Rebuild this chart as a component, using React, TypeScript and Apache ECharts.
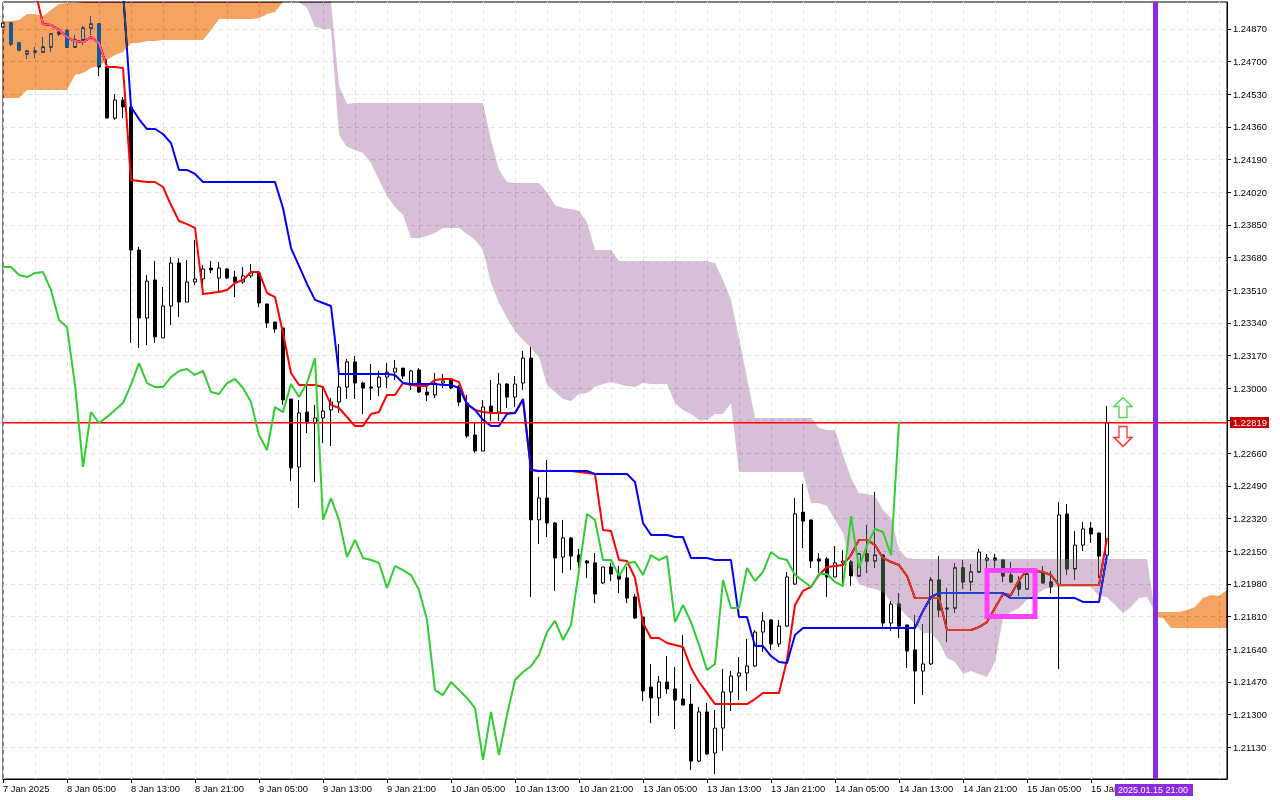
import React, { useEffect, useRef } from "react";
import * as echarts from "echarts";

const timeLabels = ["7 Jan 2025","8 Jan 05:00","8 Jan 13:00","8 Jan 21:00","9 Jan 05:00","9 Jan 13:00","9 Jan 21:00","10 Jan 05:00","10 Jan 13:00","10 Jan 21:00","13 Jan 05:00","13 Jan 13:00","13 Jan 21:00","14 Jan 05:00","14 Jan 13:00","14 Jan 21:00","15 Jan 05:00","15 Jan"];
const priceLabels = [1.2487,1.247,1.2453,1.2436,1.2419,1.2402,1.2385,1.2368,1.2351,1.2334,1.2317,1.23,1.2266,1.2249,1.2232,1.2215,1.2198,1.2181,1.2164,1.2147,1.213,1.2113];
const hiddenPriceTick = 1.2283;
const lastPrice = 1.22819;
const BAR_SLOTS = 154;
const timeMarkerIndex = 144;
const arrowIndex = 140;
const arrowUpPrice = 1.22899;
const arrowDownPrice = 1.22748;
const signalBox = [123, 1.2205, 129, 1.2181];

const candleOpen = [1.2488,1.24901,1.24797,1.2474,1.2475,1.2475,1.24776,1.24844,1.2486,1.24776,
1.24813,1.24875,1.24896,1.24672,1.24406,1.245,1.24464,1.23719,1.23365,1.23563,
1.23261,1.23427,1.23651,1.23448,1.23552,1.23568,1.23625,1.23573,1.2362,1.23578,
1.23552,1.23584,1.23599,1.23438,1.23344,1.23313,1.22943,1.22589,1.22875,1.22818,
1.22844,1.22886,1.22927,1.23005,1.23136,1.23026,1.23005,1.23005,1.23057,1.23083,
1.23104,1.23016,1.23094,1.22979,1.22964,1.23026,1.23047,1.23005,1.22922,1.22755,
1.22672,1.22906,1.22875,1.23021,1.22953,1.23026,1.23156,1.22313,1.22427,1.22297,
1.2212,1.22219,1.2213,1.22099,1.22089,1.21985,1.22068,1.22031,1.22011,1.21912,
1.21807,1.21443,1.21386,1.21469,1.21433,1.2138,1.21354,1.21057,1.21313,1.21099,
1.21229,1.21417,1.215,1.21516,1.21552,1.21729,1.21792,1.21667,1.2176,1.21979,
1.22354,1.22313,1.2211,1.2211,1.22016,1.22089,1.22094,1.22021,1.22136,1.22099,
1.2213,1.21776,1.21875,1.21766,1.21636,1.21526,1.21563,1.22,1.21854,1.21854,
1.22063,1.2199,1.22042,1.22104,1.22115,1.22104,1.22026,1.2199,1.21953,1.22042,
1.22037,1.2199,1.21974,1.22344,1.22058,1.22182,1.22271,1.22245,1.2213];

const candleClose = [1.24901,1.24792,1.24761,1.24755,1.24755,1.24776,1.24844,1.24854,1.24776,1.24813,
1.24875,1.24896,1.24672,1.24406,1.245,1.24464,1.23719,1.23365,1.23557,1.23266,
1.23427,1.23651,1.23448,1.23552,1.23568,1.2362,1.23615,1.23625,1.23573,1.23552,
1.23584,1.23599,1.23443,1.23339,1.23307,1.22938,1.22584,1.2287,1.22818,1.22844,
1.2288,1.22927,1.23005,1.23136,1.23026,1.23,1.23,1.23057,1.23083,1.23104,
1.23063,1.23089,1.22979,1.22964,1.23026,1.23037,1.23,1.22927,1.2275,1.22672,
1.22901,1.22875,1.23021,1.22953,1.23021,1.23156,1.22313,1.22427,1.22297,1.22115,
1.22219,1.22125,1.22094,1.22089,1.21927,1.22068,1.22031,1.22005,1.21906,1.21802,
1.21422,1.21386,1.21469,1.21433,1.21375,1.21349,1.21057,1.21313,1.21094,1.21229,
1.21417,1.215,1.21516,1.21552,1.21729,1.21787,1.21667,1.2176,1.22016,1.22344,
1.22307,1.22099,1.22099,1.22016,1.22089,1.22099,1.22021,1.22136,1.22099,1.2213,
1.21776,1.21875,1.2176,1.2163,1.21526,1.21563,1.22,1.21844,1.21849,1.22063,
1.2199,1.22042,1.22146,1.22115,1.22104,1.22021,1.2199,1.21953,1.22031,1.22031,
1.21985,1.21964,1.22339,1.22058,1.22182,1.22266,1.2224,1.22125,1.22819];

const candleLow = [1.2488,1.24781,1.24761,1.24714,1.24719,1.2475,1.2475,1.24833,1.24776,1.24776,
1.24787,1.24839,1.24625,1.24406,1.24396,1.24406,1.23235,1.23209,1.23224,1.23235,
1.23261,1.23328,1.2337,1.23448,1.23537,1.23485,1.23599,1.23505,1.23568,1.23474,
1.23542,1.23573,1.23422,1.23313,1.23287,1.22912,1.22516,1.22375,1.22766,1.22511,
1.22714,1.22698,1.2287,1.22943,1.22943,1.22865,1.22938,1.22958,1.23,1.23042,
1.23047,1.2299,1.22974,1.22932,1.22948,1.23,1.22995,1.22906,1.2274,1.22662,
1.22672,1.22828,1.22828,1.22896,1.22901,1.2299,1.21912,1.22188,1.22224,1.21943,
1.22037,1.22052,1.22063,1.22011,1.2188,1.21979,1.21995,1.21932,1.2188,1.21797,
1.2137,1.21255,1.21292,1.21407,1.21224,1.21349,1.21011,1.21052,1.21089,1.2099,
1.2111,1.21318,1.21375,1.21422,1.21547,1.21625,1.21636,1.21651,1.21755,1.21974,
1.22167,1.22063,1.22037,1.21912,1.22016,1.21964,1.21969,1.22016,1.22037,1.22063,
1.21755,1.21735,1.21698,1.21542,1.21354,1.21401,1.21557,1.21807,1.21677,1.21828,
1.21953,1.21943,1.22037,1.22042,1.22042,1.2199,1.21985,1.21917,1.21953,1.22021,
1.21985,1.21932,1.21537,1.22026,1.22,1.22151,1.22193,1.22011,1.2213];

const candleHigh = [1.24901,1.24901,1.24797,1.24761,1.24776,1.24828,1.24849,1.2487,1.2487,1.24839,
1.24886,1.24938,1.24896,1.24714,1.24531,1.24516,1.24464,1.23735,1.23589,1.23662,
1.23526,1.23682,1.23677,1.23667,1.23771,1.23641,1.23662,1.23656,1.23625,1.2361,
1.2363,1.23646,1.23604,1.23438,1.23344,1.23313,1.22943,1.22938,1.23016,1.22912,
1.23,1.22948,1.23229,1.23151,1.23167,1.23031,1.23125,1.23089,1.2313,1.23146,
1.23104,1.23094,1.23104,1.23016,1.23078,1.23073,1.23052,1.23016,1.22964,1.22818,
1.22938,1.23042,1.23078,1.23026,1.23063,1.23193,1.23214,1.22537,1.22625,1.22302,
1.22313,1.22224,1.22162,1.22104,1.22141,1.22068,1.22089,1.22073,1.22068,1.21927,
1.21807,1.21563,1.215,1.21604,1.21547,1.21714,1.21459,1.21339,1.2136,1.21323,
1.21537,1.21526,1.21599,1.21693,1.2174,1.21833,1.21797,1.21792,1.22042,1.22427,
1.225,1.22313,1.22141,1.2212,1.22177,1.22156,1.22104,1.22141,1.22287,1.22459,
1.2213,1.21891,1.21932,1.21766,1.21818,1.21771,1.22016,1.22125,1.21959,1.22089,
1.22104,1.22083,1.22162,1.22136,1.22136,1.22104,1.22094,1.22021,1.22037,1.22052,
1.22073,1.22047,1.22406,1.22396,1.22255,1.22302,1.22302,1.22245,1.22906];

const tenkan = [null,null,null,null,1.25073,1.24896,1.24891,1.24865,1.24828,1.24807,1.24802,1.24828,1.24797,1.24672,1.24672,1.24667,
1.24083,1.24078,1.24073,1.24073,1.24047,1.23953,1.2387,1.23854,1.23834,1.2349,1.23495,1.235,1.23511,1.23547,1.23563,1.23604,1.23604,1.23495,1.23474,
1.23287,1.23078,1.23016,1.23016,1.23016,1.23005,1.22912,1.22896,1.22849,1.22802,1.22802,1.22865,1.22875,1.22964,1.22964,1.23026,1.23016,1.23011,1.23011,
1.23042,1.23047,1.23047,1.23031,1.22917,1.22886,1.22875,1.2287,1.2287,1.2287,1.2287,1.22938,1.22573,1.22568,1.22568,1.22568,1.22568,1.22568,1.22563,1.22557,1.22552,
1.22261,1.22255,1.22104,1.22099,1.22011,1.21776,1.21698,1.21698,1.21672,1.21662,1.21651,1.21542,1.21469,1.21412,1.21354,1.21354,1.21354,1.21354,1.21354,
1.2138,1.21412,1.21412,1.21412,1.21583,1.2187,1.21943,1.21964,1.22026,1.22068,1.22073,1.22078,1.2213,1.22209,1.22209,1.22182,1.22115,1.22094,1.22078,1.22021,
1.21906,1.21906,1.21906,1.21906,1.2174,1.2174,1.2174,1.2174,1.21755,1.21781,1.21854,1.21927,1.21922,1.22,1.22052,1.22047,1.22042,1.22026,
1.21974,1.21974,1.21974,1.21974,1.21974,1.21974,1.22219];

const kijun = [null,null,null,null,null,null,null,null,null,null,null,null,null,null,null,1.25068,
1.24464,1.24401,1.24349,1.24349,1.24323,1.24276,1.24136,1.24136,1.24115,1.24073,1.24073,1.24073,1.24073,1.24073,1.24073,1.24073,1.24073,1.24073,1.24073,
1.23938,1.23729,1.23636,1.23542,1.23459,1.23443,1.23427,1.23073,1.23073,1.23073,1.23073,1.23073,1.23073,1.23073,1.23068,1.23026,1.23021,1.23021,1.23021,1.23021,
1.23016,1.23016,1.23,1.22917,1.22886,1.22834,1.22802,1.22802,1.22865,1.2287,1.22943,1.22573,1.22568,1.22568,1.22568,1.22568,1.22568,1.22568,1.22568,
1.22552,1.22552,1.22552,1.22552,1.22552,1.22511,1.22297,1.22235,1.22235,1.22235,1.22224,1.22224,1.22115,1.22115,1.22115,1.22104,1.22104,1.22104,
1.21807,1.21807,1.21656,1.21656,1.21604,1.21573,1.21568,1.21714,1.2175,1.2175,1.2175,1.2175,1.2175,1.2175,1.2175,1.2175,1.2175,1.2175,1.2175,1.2175,1.2175,1.2175,1.2175,
1.21839,1.21912,1.21932,1.21932,1.21932,1.21932,1.21932,1.21932,1.21932,1.21932,1.21932,1.21906,1.21906,1.21906,1.21906,1.21906,1.21906,1.21906,1.21906,1.21906,
1.21886,1.21886,1.21886,1.2213];

const chikou = [1.2363,1.2363,1.23589,1.23578,1.23599,1.23604,1.23511,1.23354,1.23318,1.23016,1.22589,1.22875,1.22818,1.22849,1.22886,1.22922,1.23016,1.2313,1.23026,1.23005,1.23005,
1.23057,1.23089,1.23099,1.23068,1.23089,1.22979,1.22969,1.23026,1.23047,1.23,1.22927,1.22755,1.22677,1.22901,1.22875,1.23021,1.22953,1.23026,1.23156,
1.22313,1.22427,1.22313,1.2212,1.22209,1.22115,1.22104,1.22089,1.21959,1.22073,1.22052,1.22026,1.21948,1.21792,1.21427,1.21401,1.21469,1.21427,1.21386,1.21333,
1.21063,1.21313,1.21089,1.21297,1.21479,1.21521,1.21552,1.2161,1.21729,1.21787,1.21688,1.21766,1.22052,1.22344,1.22313,1.22104,1.22104,1.22021,1.22089,1.22094,
1.22026,1.2213,1.22104,1.22125,1.21781,1.2187,1.21781,1.21662,1.21531,1.21563,1.22,1.21854,1.21854,1.22063,1.21995,1.22042,1.22146,1.22115,1.22104,1.22026,
1.21995,1.21964,1.22031,1.22031,1.2199,1.21969,1.22333,1.22063,1.22182,1.22266,1.2225,1.2213,1.22823];

const orangeLeftUpper = [1.24912,1.24912,1.24917,1.24948,1.24948,1.24938,1.24969,1.25,1.25005,1.25005,1.25011,1.25047,1.25047,1.25047,1.25047,1.25047,1.25047,1.25047,1.25047,1.25047,1.25047,1.25047,1.25047,1.25047,1.25047,1.25047,1.25047,1.25047,1.25047,1.25047,1.25047,1.25047,1.25047,1.25047,1.25047,1.25047];
const orangeLeftLower = [1.24511,1.24511,1.24511,1.24552,1.24552,1.24552,1.24552,1.24552,1.24552,1.2463,1.24641,1.24667,1.24677,1.24708,1.24735,1.2475,1.24797,1.24797,1.24807,1.24807,1.24813,1.24813,1.24813,1.24813,1.24813,1.24813,1.24865,1.24922,1.24922,1.24922,1.24922,1.24922,1.24927,1.24948,1.24959,1.25011];
const orangeLeftStart = 0;

const purpleUpper = [1.25229,1.25229,1.25229,1.25177,1.25156,1.24573,1.24479,1.24485,1.24485,1.24485,1.24485,1.24485,1.24485,1.24485,1.24485,1.24485,1.24485,1.24485,1.24485,1.24485,1.24485,1.24485,1.24485,1.24485,
1.24292,1.24136,1.24073,1.24068,1.24068,1.24068,1.24068,1.24021,1.23953,1.23938,1.23932,1.23922,1.23865,1.23719,1.23719,1.23719,
1.23662,1.23662,1.23662,1.23662,1.23662,1.23662,1.23662,1.23662,1.23662,1.23662,1.23662,1.23662,1.23651,1.23563,1.23459,1.23261,1.23052,
1.22844,1.22844,1.22844,1.22844,1.22844,1.22844,1.22844,1.22844,1.22792,1.22781,1.22781,1.22651,1.22531,1.22453,1.22448,1.22438,1.22365,1.22323,1.22156,1.22115,
1.2211,1.2211,1.2211,1.2211,1.2211,1.2211,1.2211,1.2211,1.2211,1.2211,1.2211,1.2211,1.2211,1.2211,1.2211,1.2211,1.2211,1.2211,1.2211,1.2211,1.2211,1.2211,1.2211,1.2211,1.2211,1.2211,1.2211,1.2211,1.2211,1.2211,1.21833];
const purpleLower = [1.25063,1.24979,1.2488,1.2487,1.2487,1.24318,1.24255,1.2424,1.24224,1.24172,1.24083,1.24,1.23943,1.23901,1.23781,1.23781,1.23792,1.23807,1.23834,1.23834,1.23834,1.23802,1.23771,1.23719,
1.23547,1.23443,1.23365,1.23297,1.2325,1.23209,1.23162,1.23016,1.22979,1.22943,1.22932,1.22969,1.22974,1.23005,1.23021,1.23031,1.23021,1.23011,1.23005,1.23026,1.23021,1.23021,1.23021,
1.22922,1.22886,1.22865,1.22834,1.22834,1.22865,1.22865,1.22922,1.22563,1.22563,1.22563,1.22563,1.22563,1.22563,1.22563,1.22563,1.22563,1.22401,1.22401,1.22386,1.22313,1.22245,1.22063,
1.21979,1.21964,1.21953,1.21938,1.21886,1.2186,1.21813,1.21771,1.21724,1.21724,1.21677,1.21594,1.21573,1.2151,1.21526,1.2151,1.21495,1.21573,1.21802,1.21833,1.21854,1.21896,1.21922,1.21948,1.21964,
1.21964,1.21964,1.21964,1.21964,1.21964,1.21917,1.21912,1.2187,1.21828,1.2186,1.21906,1.21912,1.21833];
const purpleStart = 37;

const orangeRightUpper = [1.21833,1.21833,1.21833,1.21833,1.21844,1.2186,1.21906,1.21922,1.21917,1.21948];
const orangeRightLower = [1.21807,1.21802,1.2175,1.2175,1.2175,1.2175,1.2175,1.2175,1.2175,1.2175];
const orangeRightStart = 144;

const ORANGE_XOR = "#0b5b9f";
const PURPLE_XOR = "#274027";

const categories = Array.from({ length: BAR_SLOTS }, (_, i) => (i % 8 === 0 && timeLabels[i / 8]) || "");
const candleData = candleOpen.map((o, i) => [o, candleClose[i], candleLow[i], candleHigh[i]]);

function cloudSeries(name: string, fill: string, start: number, upper: number[], lower: number[]) {
  return {
    type: "custom", name, z: 4, silent: true, coordinateSystem: "cartesian2d",
    encode: { x: 0, y: 1 },
    data: [[start, upper[0]]],
    renderItem(params: any, api: any) {
      const top = params.coordSys.y;
      const clampY = (p: number[]) => [p[0], Math.max(p[1], top)];
      const up = upper.map((v, k) => clampY(api.coord([start + k, v])));
      const down = lower.map((v, k) => clampY(api.coord([start + k, v]))).reverse();
      return { type: "polygon", shape: { points: up.concat(down) }, style: { fill, stroke: "none" } };
    },
  };
}

const UP_ARROW = "path://M9 0L18 9L13 9L13 20L5 20L5 9L0 9Z";
const DOWN_ARROW = "path://M5 0L13 0L13 11L18 11L9 20L0 11L5 11Z";

export default function App() {
  const ref = useRef<HTMLDivElement>(null);
  useEffect(() => {
    document.body.style.margin = "0";
    const chart = echarts.init(ref.current!, undefined, { renderer: "svg" });
    const priceTicks = [...priceLabels.slice(0, 12), hiddenPriceTick, ...priceLabels.slice(12)];
    const font = "Liberation Sans";
    const lineW = 2;
    chart.setOption({
      animation: false,
      backgroundColor: "#ffffff",
      textStyle: { fontFamily: font },
      grid: { left: 2, top: 2, width: 1225, height: 777, show: true, borderColor: "#000", borderWidth: 1, backgroundColor: "#fff", containLabel: false },
      xAxis: {
        type: "category", data: categories, boundaryGap: false,
        axisLine: { lineStyle: { color: "#000", width: 1 } },
        axisTick: { length: 4, lineStyle: { color: "#000" }, interval: (i: number) => i % 8 === 0 && i <= 136 },
        axisLabel: { interval: 7, align: "left", color: "#000", fontSize: 9.4, margin: 5, fontFamily: font, showMaxLabel: false },
        splitLine: { show: true, interval: 3, lineStyle: { color: "#e2e2e2", type: [4, 4], width: 1 } },
      },
      yAxis: {
        type: "value", position: "right", min: 1.209637, max: 1.250106, scale: true,
        axisLine: { show: true, lineStyle: { color: "#000", width: 1 } },
        axisTick: { show: true, length: 4, lineStyle: { color: "#000" }, customValues: priceTicks },
        axisLabel: { color: "#000", fontSize: 9.4, margin: 6, fontFamily: font, customValues: priceLabels, formatter: (v: number) => v.toFixed(5) },
        splitLine: { show: true, lineStyle: { color: "#e2e2e2", type: [4, 4], width: 1 } },
      },
      series: [
        {
          type: "candlestick", name: "EURUSD H1", z: 2, barWidth: 4, silent: true,
          itemStyle: { color: "#ffffff", color0: "#000000", borderColor: "#000000", borderColor0: "#000000", borderWidth: 1 },
          data: candleData,
        },
        { type: "line", name: "Tenkan-sen", z: 3, data: tenkan, symbol: "none", silent: true, lineStyle: { color: "#ff0000", width: lineW } },
        { type: "line", name: "Kijun-sen", z: 3, data: kijun, symbol: "none", silent: true, lineStyle: { color: "#0000ff", width: lineW } },
        {
          type: "line", name: "Chikou Span", z: 5, data: chikou, symbol: "none", silent: true, lineStyle: { color: "#32cd32", width: lineW },
          markLine: {
            silent: true, symbol: "none", z: 6, animation: false, label: { show: false },
            lineStyle: { color: "#8a2be2", type: "solid", width: 5 },
            data: [{ xAxis: timeMarkerIndex }],
          },
        },
        cloudSeries("Kumo bearish left", ORANGE_XOR, orangeLeftStart, orangeLeftUpper, orangeLeftLower),
        cloudSeries("Kumo bullish", PURPLE_XOR, purpleStart, purpleUpper, purpleLower),
        cloudSeries("Kumo bearish right", ORANGE_XOR, orangeRightStart, orangeRightUpper, orangeRightLower),
        {
          type: "custom", name: "Last price", z: 5, silent: true, coordinateSystem: "cartesian2d",
          encode: { x: 0, y: 1 },
          data: [[0, lastPrice]],
          renderItem(params: any, api: any) {
            const y = Math.floor(api.coord([0, api.value(1)])[1]);
            const left = params.coordSys.x;
            const right = left + params.coordSys.width;
            return {
              type: "group",
              children: [
                { type: "rect", shape: { x: left, y, width: right - left, height: 1.4 }, style: { fill: "#ff0000", stroke: "none" } },
                { type: "rect", shape: { x: right + 3, y: y - 5, width: 39, height: 11 }, style: { fill: "#c80000", stroke: "none" } },
                { type: "text", x: right + 6, y: y - 4, style: { text: lastPrice.toFixed(5), fill: "#fff", font: `9.4px "${font}"` } },
              ],
            };
          },
        },
        {
          type: "custom", name: "Signal box", z: 7, silent: true, coordinateSystem: "cartesian2d",
          encode: { x: [0, 2], y: [1, 3] },
          data: [signalBox],
          renderItem(_: any, api: any) {
            const a = api.coord([api.value(0), api.value(1)]);
            const b = api.coord([api.value(2), api.value(3)]);
            return { type: "rect", shape: { x: a[0], y: a[1], width: b[0] - a[0], height: b[1] - a[1] }, style: { fill: "none", stroke: "#ff40ff", lineWidth: 5 } };
          },
        },
        {
          type: "scatter", name: "Up arrow", z: 7, silent: true, symbol: UP_ARROW, symbolSize: [18, 20], symbolKeepAspect: false,
          itemStyle: { color: "#ffffff", borderColor: "#22cc22", borderWidth: 1.4 },
          data: [[arrowIndex, arrowUpPrice]],
        },
        {
          type: "scatter", name: "Down arrow", z: 7, silent: true, symbol: DOWN_ARROW, symbolSize: [18, 20],
          itemStyle: { color: "#ffffff", borderColor: "#ff0000", borderWidth: 1.4 },
          data: [[arrowIndex, arrowDownPrice]],
        },
      ],
      graphic: [
        {
          type: "group", z: 100,
          children: [
            { type: "rect", z: 100, shape: { x: 1115, y: 784, width: 78, height: 12 }, style: { fill: "#8a2be2" } },
            { type: "text", z: 101, x: 1118, y: 785, style: { text: "2025.01.15 21:00", fill: "#fff", font: `9px "${font}"` } },
          ],
        },
      ],
    });
    const applyBlend = () => {
      const root = ref.current;
      if (!root) return;
      root.querySelectorAll("path,polygon").forEach((el) => {
        const f = (el.getAttribute("fill") || "").replace(/\s/g, "").toLowerCase();
        if (f === ORANGE_XOR || f === PURPLE_XOR || f === "rgb(11,91,159)" || f === "rgb(39,64,39)") {
          (el as SVGElement).style.mixBlendMode = "difference";
        }
      });
    };
    applyBlend();
    chart.on("finished", applyBlend);
    return () => chart.dispose();
  }, []);
  return <div ref={ref} style={{ position: "absolute", left: 0, top: 0, width: 1280, height: 800 }} />;
}
